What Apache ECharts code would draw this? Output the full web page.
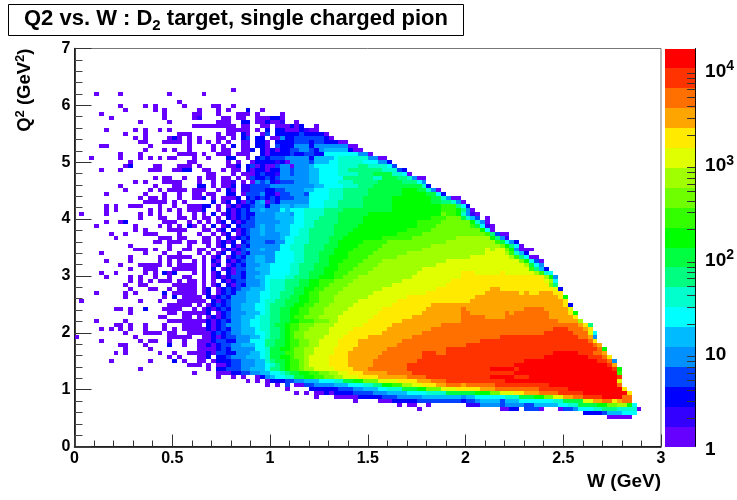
<!DOCTYPE html>
<html>
<head>
<meta charset="utf-8">
<style>html,body{margin:0;padding:0;background:#fff}#chart{width:737px;height:500px}</style>
<script src="https://cdn.jsdelivr.net/npm/echarts@6/dist/echarts.min.js"></script>
</head>
<body>
<div id="chart"></div>
<script>
// 20 contour colours, bottom of the colour bar first
const palette = ['#6600ff','#3300ff','#0000ff','#0044ff','#0090ff','#00bbff','#00ffff','#00ffcc','#00ff80','#00ff40',
  '#00ff00','#33ff00','#70ff00','#a0ff00','#e0ff00','#ffea00','#ffa500','#ff7000','#ff3300','#ff0000'];
const barMax = 16255;
const decades = [1, 10, 100, 1000, 10000];
const minorValues = [2,3,4,5,6,7,8,9,20,30,40,50,60,70,80,90,200,300,400,500,600,700,800,900,2000,3000,4000,5000,6000,7000,8000,9000];
const binW = 0.025, binQ = 0.07;
const firstRow = 10; // rows counted down from Q2=7

// one string per Q2 bin: "col level" or "from-to level", level a=1 ... t=20
const rows = [
'32a',
'4a 9a 19a 26a',
'',
'21a',
'9a 14a 16a 22a 28-29a 32a',
'10a 16a 18a 25a 29a 31a 35c 38a',
'5a 18a 24a 25a 29a 33-35a 37a 42a',
'7a 18a 24a 25b 30-31a 33-34a 37-38a 39a 40-41c 42a',
'13a 19a 29-31a 34-35c 37-38a 39c 40-41a 42b 45a',
'24a 25-30a 31-32a 34-35a 38a 39a 41-43a 44c 45a 46c 49a',
'6a 12a 14a 17a 19a 31-33a 34-35a 37a 39c 41-42c 43-45a 46c 47b 48-49a',
'10a 14a 21-23a 29a 31-32a 34c 35a 38a 39d 41-45c 46d 47-50c 51a',
'12a 14a 19a 20c 21a 23a 25a 29-30a 32a 34c 35d 37-38c 40-41a 42e 43-44c 45-50d 51c 52a',
'13-14a 18-21a 23a 25a 27a 29a 31a 34-35a 37-38c 39a 41-44c 45-47d 48c 49-50d 51-53c 54-55a',
'5-6a 15a 23a 28a 30a 32c 34-35a 37-38c 39a 41d 42-44c 45-47e 48c 49-55e 56-57a',
'14a 18a 20a 23a 28a 30-31a 34a 35a 36c 38c 39a 40c 41a 42-43c 44-45d 46-47e 48d 49c 50e 51-55f 56c 57-58a',
'9a 13a 21-24a 26a 29-31a 33-35a 38c 39a 40-43c 44d 45-46c 47-48d 49-50c 51-57g 58-59e 60a',
'3a 9a 13a 15a 17a 19-20a 24a 27a 31-32c 35a 37c 38d 39c 40-42d 43-47e 48c 49-52f 53g 54-59h 60-61e 62-63a',
'11a 23-24a 31a 33a 36a 37-38c 39-40c 41b 42c 43a 44-47e 48d 49-51f 52-53g 54-58h 59-61g 62-63e 64c',
'10a 11c 16-17a 21-23a 25a 31-32a 33c 35c 36d 37a 38c 39-40a 41d 42-43e 44a 45-47e 48f 49-53g 54-57h 58-59i 60-63h 64g 65d',
'5a 9a 15-17a 20-21a 22-23c 26-27a 30a 32-33a 35c 36a 37-38c 39a 40-41c 42-43e 44d 45-47e 48-49f 50-53g 54-55h 56-62i 63-65h 66d 67c',
'27-28a 32a 34-36a 37c 38d 39-40c 41b 42-43e 44d 45-47e 48-49f 50-53g 54-57h 58-60i 61-64j 65-66h 67g 68a',
'16a 18-19a 22a 25a 27-28a 30-31a 33a 35a 36d 37-38c 39d 40c 41d 42-47e 48-49f 50-54g 55-60i 61-62h 63-65j 66-67i 68h 69e 70-71a',
'12a 14a 18-21a 25a 28a 30-31a 32b 34a 36a 37e 38d 39e 40c 41b 42-44d 45-47e 48-49f 50-53g 54-56h 57-61i 62-66j 67-69i 70g 71e',
'9a 16a 20-21a 25-26c 28a 30-31a 32c 34-35b 36d 37-38d 39d 40-48e 49-50f 51-54g 55-57h 58-60i 61-70j 71h 72c',
'10a 15a 17a 19-22a 24-26a 29a 31c 32a 34-35b 36d 37-38d 39-40c 41-42d 43-46e 47-48f 49-51g 52-54h 55-59i 60-66j 67-69k 70-71j 72h 73e 74a',
'6a 14a 18a 21a 24-25a 27-28a 31-32c 34a 35-37d 38e 39-40c 41a 42-43d 44-46e 47d 48-51g 52-54h 55-59i 60-66j 67-71k 72-73j 74g 75c',
'13a 15-16a 18a 21a 24-25a 26c 28a 30-31a 32a 33c 35c 36d 37c 38d 39c 40d 41c 42-44d 45-47e 48-51g 52-54h 55-58i 59-64j 65-72k 73-74j 75h 76e 77-78a',
'14-18a 20a 22a 28c 30a 31c 33c 34a 35d 36c 37e 38f 39a 40d 41c 42-47e 48-50g 51-53h 54-58i 59-64j 65-72k 73-74j 75-76i 77h 78e 79a',
'6a 8a 11-13a 17a 20a 23-25a 26-27c 29a 31a 32c 33a 34-35c 36d 37-38e 39c 40-41e 42-43f 44e 45-47f 48-50g 51-53h 54-58i 59-64j 65-74k 75-77l 78i 79g 80c',
'6a 8a 15a 17a 19a 21a 23-25a 26c 29a 31c 32a 33c 34d 35c 36-37e 38f 39-41e 42g 43f 44-46g 47-50h 51-54i 55-64j 65-74k 75-77l 78k 79i 80e 81a',
'1a 6a 13a 15a 17a 21a 24a 26a 28c 30a 31c 32a 33c 34d 35-36c 37-38e 39-40e 41-43f 44e 45-46g 47-50h 51-53i 54-59j 60-74k 75m 76-77l 78k 79h 80e 81b 82a',
'13a 17-18a 21-22a 24a 26-27a 29a 31c 32a 33c 34d 35c 36d 37-38e 39-40e 41-44f 45-46g 47-49h 50-53i 54-58j 59-72k 73-75l 76-78m 79j 80h 81f 82d 84a',
'6a 9a 10c 18-20a 23a 25a 27a 29a 30c 32c 33a 34c 35-36d 37-38e 39-41e 42-44f 45-46g 47-48h 49-53i 54-58j 59-69k 70-74l 75-80m 81k 82h 83e 84a',
'4a 12a 17a 19a 21a 23c 24a 26a 28c 30a 31c 33c 34d 35-36d 37e 38f 39-40e 41-43f 44-46g 47-48h 49-52i 53-57j 58-69k 70-73l 74-80m 81l 82j 83g 84b 85a',
'12a 14a 19-22a 26-27a 29a 30c 32c 33a 34c 35d 36-37e 38f 39-40e 41-43f 44-45g 46-47h 48-52i 53-56j 57-67k 68-72l 73-82m 83k 84g 85a',
'7a 10a 14-16a 21a 25a 28a 30a 31c 33a 34c 35d 36-37e 38f 39-41e 42-43f 44-45g 46-47h 48-52i 53-55j 56-65k 66-70l 71-83m 84l 85i 86d 87-88a',
'8a 17-19a 21-22a 26-27a 29a 31c 32a 33c 34d 35c 36-41e 42f 43-44g 45-47h 48-51i 52-54j 55-62k 63-68l 69-77m 78-84n 85k 86i 87e 88b',
'16-17a 19-21a 23-24a 26-27a 29a 30c 31a 32c 34c 35d 36-38e 39-40d 41-42e 43-44g 45-47h 48-51i 52-53j 54-58k 59-63l 64-75m 76-85n 86l 87j 88g 89e 90c',
'11a 19a 23a 27a 29a 30c 32c 33a 34d 35c 36-41e 42-43g 44-46h 47-50i 51-53j 54-57k 58-62l 63-72m 73-86n 87m 88k 89i 90g 91a',
'12-14a 16a 19a 22-23a 25-26a 28a 30a 31c 32a 33c 34d 35-37e 38f 39-41e 42-43g 44-46h 47-50i 51-52j 53-56k 57-61l 62-70m 71-83n 84o 85n 86-87o 88m 89k 90e 91-93a',
'5a 14a 18a 21a 25a 27a 29a 30c 32c 33a 34d 35c 36-40e 41-44g 45-46h 47-49i 50-52j 53-55k 56-60l 61-67m 68-83n 84-87o 88n 89l 90h 91f 92c',
'11a 17a 19-23a 26a 28a 29c 31a 32c 33d 34c 35-36e 37-38f 39-40e 41-44g 45-46h 47-49i 50-51j 52-55k 56-59l 60-65m 66-80n 81-88o 89n 90l 91i 92g 93-94a',
'6a 11a 17a 19a 21a 24a 26a 28c 29a 31c 32a 33c 34d 35-36e 37-38f 39-40e 41-44g 45-46h 47-49i 50-51j 52-54k 55-58l 59-62m 63-75n 76-90o 91m 92k 93g 94d 95a',
'9a 13-17a 19a 21-24a 26a 28a 29c 31a 32c 33d 34c 35-37e 38-39f 40-43g 44-45h 46-48i 49-51j 52-53k 54-57l 58-61m 62-73n 74-91o 92n 93j 94g 95e',
'11a 14-16a 20-24a 26a 28c 30a 31c 32a 33-34d 35-36e 37-39f 40-43g 44-45h 46-48i 49-50j 51-53k 54-56l 57-60m 61-70n 71-92o 93l 94i 95f 96c',
'5a 8a 14a 16a 18c 19a 20c 24a 26a 28a 29c 31c 32a 33d 34c 35-37e 38-39f 40-43g 44-45h 46-47i 48-50j 51-52k 53-55l 56-59m 60-69n 70-78o 79-81p 82-86o 87p 88-93o 94n 95l 96h 97g',
'6a 11a 13a 16a 19a 22-23a 26a 28a 29c 30a 31c 32-33d 34c 35-36e 37-38f 39-42g 43-44h 45-47i 48-49j 50-52k 53-54l 55-57m 58-68n 69-78o 79-95p 96n 97k 98e',
'11a 13a 15a 17-19a 21a 23-24a 26a 28a 30c 31a 32c 33-34d 35-37e 38f 39g 40-42h 43-45i 46-47j 48-49k 50-52l 53-56m 57-66n 67-76o 77-95p 96o 97n 98g',
'10a 13-14a 20-24a 26a 28a 29c 31c 32a 33d 34c 35-37e 38f 39g 40-42h 43-45i 46-47j 48-49k 50-51l 52-55m 56-64n 65-75o 76-96p 97m 98i',
'11a 15-16a 19a 21-24a 26a 27c 29a 30c 31d 32c 33d 34-35e 36-38f 39g 40-42h 43-44i 45-46j 47-48k 49-50l 51-54m 55-62n 63-73o 74-84p 85-86q 87-97p 98o 99c',
'4a 10a 12a 18c 20-23a 24a 26a 27c 29a 30c 31d 32c 33-34e 35-37f 38-39g 40-41h 42-44i 45-46j 47k 48-49l 50-53m 54-60n 61-71o 72-83p 84-90q 91p 92q 93-94p 95-97q 98-99p',
'10a 18a 20c 22-24a 25a 27c 28a 29c 30d 31c 32-34e 35-37f 38-39g 40-41h 42-43i 44-45j 46-47k 48-49l 50-52m 53-59n 60-67o 68-81p 82-98q 99p 100k',
'1a 13a 17a 21-25a 26a 28c 29a 30c 31d 32-34e 35-37f 38g 39-40h 41-42i 43-45j 46-47k 48-49l 50-52m 53-57n 58-65o 66-80p 81-99q 100p',
'19-23a 25a 27a 28c 29d 30c 31d 32-33e 34-36f 37-38g 39h 40-42i 43-44j 45-46k 47-48l 49-51m 52-56n 57-64o 65-72p 73-99q 100p 101c',
'8-9a 11a 14c 18-21a 24a 26a 27c 28a 29c 30d 31c 32-33e 34-36f 37-38g 39h 40-41i 42-43j 44-45k 46-47l 48-50m 51-55n 56-62o 63-71p 72-78q 79r 80-91q 92-95r 96-100q 101o',
'11a 19-20a 22-25a 26a 27c 29a 30c 31d 32-34e 35-37f 38g 39h 40-41i 42-43j 44-45k 46-47l 48-50m 51-54n 55-61o 62-70p 71-78q 79-80r 81-87q 88r 89q 90-96r 97-100q 101p 102k',
'17-18a 22-23a 25a 27a 28c 29a 30c 31d 32-33e 34-36f 37g 38-39h 40-41i 42-43j 44k 45-46l 47-49m 50-53n 54-60o 61-68p 69-78q 79-83r 84-87q 88-96r 97-101q 102p',
'4a 10a 19-25a 26a 27c 28a 29c 30d 31c 32-33e 34-35f 36-37g 38-39h 40-41i 42-43j 44-45k 46-48l 49-51m 52-53n 54-59o 60-66p 67-78q 79-98r 99-102q 103n',
'8-9a 11a 14a 18a 22-24a 25a 27c 28a 29c 30d 31-33e 34-35f 36-37g 38-39h 40i 41-42j 43k 44-45l 46-48m 49-52n 53-58o 59-64p 65-74q 75-102r 103q 104p 105i',
'5a 7a 9a 11a 14a 18a 20a 22-25a 26a 27c 28a 29c 30d 31c 32-33e 34-36f 37g 38-39h 40-41i 42j 43k 44-45l 46-47m 48-51n 52-56o 57-63p 64-72q 73-97r 98-100s 101-103r 104q 105p',
'10a 14-17a 19-20a 23-25a 26-27a 28c 29d 30c 31d 32-33e 34-36f 37-38g 39h 40-41i 42j 43k 44l 45-46m 47-51n 52-55o 56-62p 63-70q 71-95r 96-101s 102-104r 105o 106g',
'0a 12a 19-23a 26a 27a 28c 29a 30c 31-32d 33-35e 36-37f 38g 39h 40-41i 42j 43k 44l 45-46m 47-50n 51-54o 55-59p 60-68q 69-86r 87-102s 103-104r 105q 106e',
'5a 13a 15-16a 19a 22a 25-27a 28c 29-30d 31-32c 33-35e 36-38g 39-40i 41-42j 43k 44-45l 46-47m 48-49n 50-53o 54-57p 58-66q 67-82r 83-104s 105r 106p',
'9-10a 14a 19c 22a 25a 26a 27c 28a 29c 30-31d 32-33e 34-36f 37-38g 39-40i 41-42j 43k 44-45l 46-47m 48-49n 50-53o 54-57p 58-65q 66-79r 80-105s 106r 107q',
'10a 15a 25-27a 28a 29c 30d 31c 32-36e 37-38g 39h 40-41j 42-43k 44l 45-46m 47-48n 49-52o 53-56p 57-63q 64-75r 76-106s 107r 108k',
'8a 10a 17a 20a 23-26a 27c 28a 29-30d 31-32c 33-35e 36-37f 38g 39h 40-42j 43-44l 45-46m 47-48n 49-52o 53-55p 56-62q 63-70r 71-73s 74-75r 76-97s 98-102t 103-105s 106-107r 108q',
'19a 21a 25-26a 27c 29-30c 31d 32-34e 35-37f 38g 39h 40-41j 42-43k 44l 45-46m 47n 48-51o 52-55p 56-61q 62-70r 71-95s 96-104t 105-107s 108r 109p',
'7a 15a 20c 22a 25-26a 28a 29-31c 32-33d 34-36e 37-38f 39h 40i 41-42j 43k 44-45l 46m 47n 48-51o 52-55p 56-60q 61-69r 70-91s 92-106t 107-108s 109r 110e',
'23-25a 27a 29-30a 31c 32-33d 34-36e 37-38f 39g 40h 41i 42j 43k 44-45l 46m 47n 48-51o 52-55p 56-60q 61-67r 68-89s 90-108t 109s 110q',
'13a 27a 29-30c 31-33d 34-35e 36-38f 39g 40-41i 42j 43k 44-45l 46m 47-48n 49-52o 53-56p 57-59q 60-67r 68-84s 85-89t 90s 91-109t 110s 111k',
'24a 29-31a 32-33c 34-35d 36-37e 38-39f 40-41g 42h 43i 44-45j 46-47k 48-49l 50-51m 52-53n 54-55o 56-58p 59-63q 64-68r 69-89s 90-110t 111l',
'29a 32a 34a 37a 38c 39e 40f 41-42g 43-44h 45-46j 47-48k 49-50l 51-52m 53-54n 55-57o 58-61p 62-67q 68-71r 72-84s 85-89t 90-92s 93-110t 111s',
'35a 37a 39a 40-42c 43-44d 45-46e 47-49f 50-52g 53-54h 55-56j 57-58k 59-61m 62-65o 66-69p 70-72q 73-75r 76-87s 88-110t 111o',
'39a 41a 43d 45-46a 47-48d 49-52e 53-55f 56-58g 59-60h 61-62i 63-64k 65-66l 67-68n 69-70o 71-73p 74-75q 76-78r 79q 80-85r 86-96s 97-110t 111r',
'43a 48-53c 54-56d 57-58e 59-61f 62-63g 64-66h 67-69j 70-71k 72-74m 75-77o 78-82p 83-85q 86-94r 95-100s 101-111t 112p',
'45a 47a 49-50a 51c 52a 53-56c 57-60d 61-63e 64-67f 68-71g 72-75h 76-81j 82-84k 85-86m 87-89o 90-91p 92-94q 95-98r 99-103s 104-112t 113p',
'49a 53-57a 58-62c 63-65d 66-70e 71-78f 79e 80-81f 82-87g 88-90h 91-93j 94-95k 96-97m 98-99o 100-101q 102-103r 104-107s 108-111t 112-113r',
'57a 62-64a 65-69c 70-78d 79c 80-81d 82e 83-86f 87d 88-90f 91-97g 98-99h 100-103j 104-105o 106-107q 108-109r 110p 111q 112-113r',
'66a 68-69a 72a 80-82b 83-86e 87d 88-91e 92-93d 94-98f 99-100g 101-102h 103-106j 107-108k 109-110m 111-112n 113k 114g',
'70a 87-88a 89-90c 92-94d 95a 99a 100-101d 102e 103-105g 106-107h 108-110i 111-114h 115a',
'104-107c 108d 109-111f 112-114g',
'109-113a'
];

function rowsToCells() {
  const cells = [];
  rows.forEach((row, i) => {
    const q = 7 - (firstRow + i + 1) * binQ;
    row.split(' ').filter(Boolean).forEach((token) => {
      const m = token.match(/^(\d+)(?:-(\d+))?([a-t])$/);
      const from = +m[1];
      const to = m[2] ? +m[2] : from;
      const level = m[3].charCodeAt(0) - 97;
      for (let c = from; c <= to; c++) cells.push([c * binW, q, level]);
    });
  });
  return cells;
}

const labelFont = {fontFamily: '"Liberation Sans"', fontWeight: 'bold', color: '#000'};
const barEdge = (k) => Math.pow(barMax, k / 20);

const myChart = echarts.init(document.getElementById('chart'));

myChart.setOption({
  animation: false,
  title: {
    text: 'Q2 vs. W : D{sub|2} target, single charged pion',
    left: 8, top: 1,
    padding: [4, 16, 3, 16],
    borderColor: '#000', borderWidth: 1,
    textStyle: {
      ...labelFont, fontSize: 22,
      rich: {sub: {...labelFont, fontSize: 15, padding: [13, 0, 0, 0]}}
    }
  },
  grid: [
    {left: 74.5, top: 48.5, width: 586.5, height: 398, show: true, borderColor: '#777', borderWidth: 1},
    {left: 665, top: 48.5, width: 33, height: 398}
  ],
  xAxis: [
    {
      type: 'value', gridIndex: 0, min: 0, max: 3, interval: 0.5,
      name: 'W (GeV)', nameLocation: 'end', nameGap: 0,
      nameTextStyle: {...labelFont, fontSize: 19, align: 'right', verticalAlign: 'top', padding: [26, 0, 0, 0]},
      splitLine: {show: false},
      axisLine: {lineStyle: {color: '#000', width: 1.5}},
      axisTick: {inside: true, length: 12, lineStyle: {color: '#333'}},
      minorTick: {show: true, splitNumber: 5, length: 6, lineStyle: {color: '#333'}},
      axisLabel: {...labelFont, fontSize: 16, margin: 4, hideOverlap: false, showMinLabel: true, showMaxLabel: true,
        formatter: (v) => String(v)}
    },
    {type: 'category', gridIndex: 1, show: false, data: ['bar']}
  ],
  yAxis: [
    {
      type: 'value', gridIndex: 0, min: 0, max: 7, interval: 1,
      name: 'Q{sup|2} (GeV{sup|2})', nameLocation: 'end', nameGap: 0, nameRotate: 90,
      nameTextStyle: {...labelFont, fontSize: 18.5, align: 'right', verticalAlign: 'bottom', padding: [0, 0, 39, 0],
        rich: {sup: {...labelFont, fontSize: 13, padding: [0, 0, 9, 0]}}},
      splitLine: {show: false},
      axisLine: {lineStyle: {color: '#000', width: 1.5}},
      axisTick: {inside: true, length: 17, lineStyle: {color: '#333'}},
      minorTick: {show: true, splitNumber: 5, length: 8, lineStyle: {color: '#444'}},
      axisLabel: {...labelFont, fontSize: 16, margin: 4}
    },
    {
      type: 'log', gridIndex: 1, min: 1, max: barMax, position: 'right', logBase: 10,
      splitLine: {show: false},
      axisLine: {show: true, onZero: false, lineStyle: {color: '#000', width: 1}},
      axisTick: {inside: true, length: 17, customValues: decades, lineStyle: {color: '#222'}},
      axisLabel: {
        ...labelFont, fontSize: 19, margin: 10, customValues: decades, padding: [6, 0, 0, 0],
        formatter: (v) => {
          const p = Math.round(Math.log10(v));
          if (p === 0) return '1';
          if (p === 1) return '10';
          return '10{sup|' + p + '}';
        },
        rich: {sup: {...labelFont, fontSize: 14, padding: [0, 0, 10, 0]}}
      }
    }
  ],
  series: [
    {
      type: 'custom', xAxisIndex: 0, yAxisIndex: 0, silent: true, progressive: 0,
      encode: {x: 0, y: 1},
      data: rowsToCells(),
      renderItem(params, api) {
        const w = api.value(0), q = api.value(1);
        const a = api.coord([w, q + binQ]);
        const b = api.coord([w + binW, q]);
        const x = Math.round(a[0]), y = Math.round(a[1]);
        return {
          type: 'rect',
          shape: {x, y, width: Math.round(b[0]) - x, height: Math.round(b[1]) - y},
          style: {fill: palette[api.value(2)]}
        };
      },
      z: 1
    },
    {
      // colour bar blocks
      type: 'custom', xAxisIndex: 1, yAxisIndex: 1, silent: true,
      data: palette.map((c, k) => [0, barEdge(k), barEdge(k + 1), k]),
      encode: {x: 0, y: [1, 2]},
      renderItem(params, api) {
        const lo = api.coord([0, api.value(1)]);
        const hi = api.coord([0, api.value(2)]);
        const bw = api.size([1, 0])[0];
        return {
          type: 'rect',
          shape: {x: lo[0] - bw / 2, y: Math.round(hi[1]), width: bw, height: Math.round(lo[1]) - Math.round(hi[1])},
          style: {fill: palette[api.value(3)]}
        };
      },
      z: 1
    },
    {
      // colour bar minor ticks, a log axis has no 2..9 ticks of its own
      type: 'custom', xAxisIndex: 1, yAxisIndex: 1, silent: true,
      data: minorValues.map((v) => [0, v]),
      encode: {x: 0, y: 1},
      renderItem(params, api) {
        const p = api.coord([0, api.value(1)]);
        const right = p[0] + api.size([1, 0])[0] / 2;
        const y = Math.round(p[1]) + 0.5;
        return {type: 'line', shape: {x1: right - 8, y1: y, x2: right, y2: y}, style: {stroke: '#333', lineWidth: 1}};
      },
      z: 5
    }
  ]
});
</script>
</body>
</html>
